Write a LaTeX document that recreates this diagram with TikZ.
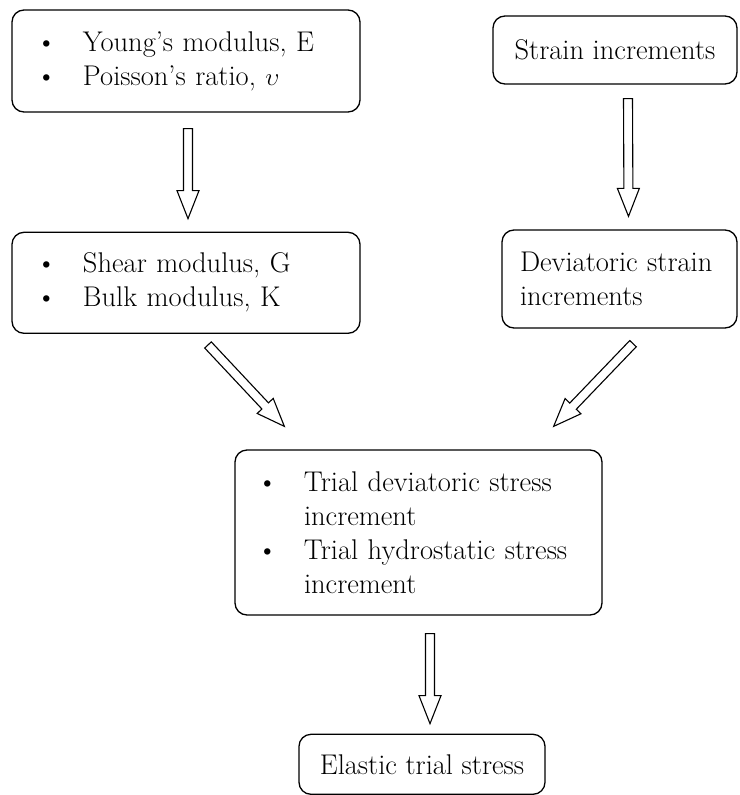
\documentclass[tikz,border=0pt]{standalone}
\usepackage{fontspec}
\usepackage{tikz}
\usetikzlibrary{calc,positioning}
\newlength{\bulw}
\setlength{\bulw}{47pt}
\newcommand{\bul}{\makebox[\bulw][l]{\textbullet}}
\newcommand{\cont}{\hspace*{\bulw}}
\tikzset{
  flowbox/.style={
    draw,
    line width=1.3pt,
    rounded corners=12pt,
    inner ysep=6pt,
    font=\fontsize{28.5}{34}\selectfont
  },
  listbox/.style={flowbox, align=left, inner xsep=24pt},
  hollow/.style={draw, line width=1.1pt, fill=white, line join=miter}
}
% block arrow with open outline, from #1 to #2
\newcommand{\hollowarrow}[2]{%
  \coordinate (ha-s) at #1;
  \coordinate (ha-t) at #2;
  \coordinate (ha-b) at ($(ha-t)!28pt!(ha-s)$);
  \draw[hollow] ($(ha-s)!4.5pt!90:(ha-t)$) -- ($(ha-b)!4.5pt!90:(ha-t)$)
    -- ($(ha-b)!11pt!90:(ha-t)$) -- (ha-t) -- ($(ha-b)!11pt!-90:(ha-t)$)
    -- ($(ha-b)!4.5pt!-90:(ha-t)$) -- ($(ha-s)!4.5pt!-90:(ha-t)$) -- cycle;
}
\begin{document}
\begin{tikzpicture}[x=1pt, y=-1pt]
\useasboundingbox (0,0) rectangle (739,795);
\node[listbox, text width=300pt, minimum height=102pt] (young) at (186,61) {\bul Young's modulus, E\\\bul Poisson's ratio, $\upsilon$};
\node[listbox, text width=300pt, minimum height=101pt, below=119pt of young] (shear) {\bul Shear modulus, G\\\bul Bulk modulus, K};
\node[flowbox, minimum width=244pt, minimum height=68pt] (strain) at (615,50) {Strain increments};
\node[flowbox, align=left, text width=199pt, inner xsep=18pt, minimum height=98pt] (devstrain) at (619.5,279) {Deviatoric strain\\increments};
\node[listbox, inner xsep=22pt, text width=323pt, minimum height=165pt] (trial) at (418.5,532.5) {\bul Trial deviatoric stress\\\cont increment\\\bul Trial hydrostatic stress\\\cont increment};
\node[flowbox, minimum width=246pt, minimum height=60pt, below=118pt of trial, xshift=3.5pt] (elastic) {Elastic trial stress};

\hollowarrow{($(young.south)+(2,16)$)}{($(shear.north)+(2,-13)$)}
\hollowarrow{($(strain.south)+(13,14)$)}{($(devstrain.north)+(9,-13)$)}
\hollowarrow{($(shear.south)+(22,11)$)}{($(trial.north west)+(50,-23)$)}
\hollowarrow{($(devstrain.south)+(13.5,15)$)}{($(trial.north east)+(-49,-23)$)}
\hollowarrow{($(trial.south)+(11.5,18)$)}{($(elastic.north)+(8,-10)$)}
\end{tikzpicture}
\end{document}
